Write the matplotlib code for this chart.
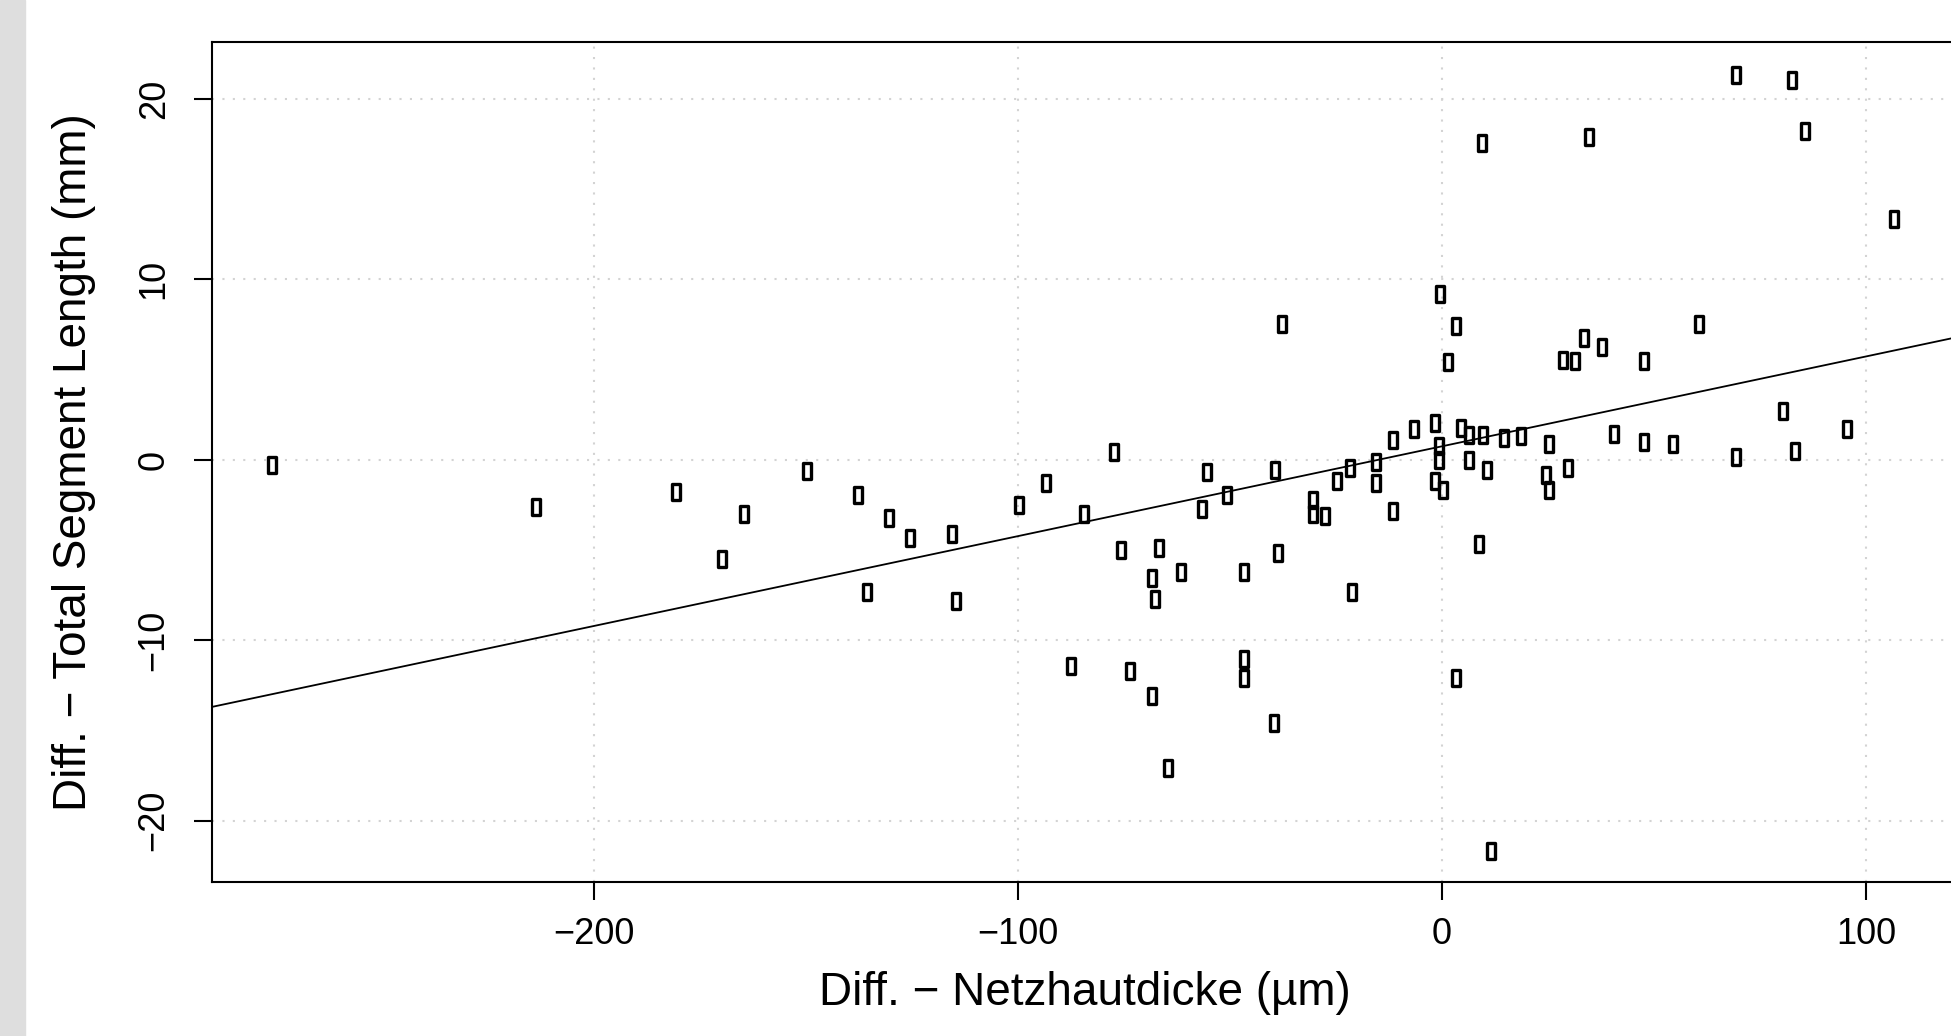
import numpy as np
import matplotlib
matplotlib.use('Agg')
import matplotlib.pyplot as plt
from matplotlib.path import Path

plt.rcParams['font.family'] = ['Liberation Sans', 'DejaVu Sans']

diff_thickness = [-275.8, -213.7, -180.6, -169.7, -164.7, -149.7, -137.7, -135.5, -130.5, -125.5,
                  -115.6, -114.7, -99.8, -93.5, -87.6, -84.5, -77.3, -75.6, -73.6, -68.4,
                  -68.4, -67.8, -66.8, -64.6, -61.5, -56.6, -55.5, -50.7, -46.8, -46.8,
                  -46.8, -39.4, -39.6, -38.7, -37.8, -30.4, -30.4, -27.5, -24.7, -21.6,
                  -21.3, -15.6, -15.6, -11.5, -11.5, -6.6, -0.6, -1.7, -0.7, -0.7,
                  -1.7, 0.3, 1.45, 3.4, 3.3, 4.4, 6.3, 6.3, 8.6, 9.4,
                  9.6, 10.5, 11.6, 14.5, 18.6, 24.6, 25.2, 25.2, 28.6, 31.3,
                  29.6, 33.5, 34.6, 37.6, 40.6, 47.6, 47.6, 54.4, 60.5, 69.3,
                  69.3, 80.4, 82.5, 83.3, 85.5, 95.4, 106.5]
diff_length = [-0.3, -2.6, -1.8, -5.5, -3.0, -0.6, -1.95, -7.3, -3.2, -4.35,
               -4.1, -7.8, -2.5, -1.3, -11.45, -3.0, 0.45, -5.0, -11.7, -6.55,
               -13.1, -7.7, -4.9, -17.1, -6.2, -2.7, -0.65, -1.95, -6.2, -11.05,
               -12.1, -0.55, -14.6, -5.15, 7.5, -2.25, -3.0, -3.1, -1.15, -0.45,
               -7.3, -0.1, -1.3, 1.1, -2.85, 1.7, 9.2, 2.05, 0.75, 0.0,
               -1.2, -1.65, 5.4, 7.4, -12.1, 1.75, 1.35, 0.0, -4.65, 17.55,
               1.35, -0.55, -21.7, 1.2, 1.3, -0.85, 0.9, -1.65, 5.55, 5.5,
               -0.45, 6.75, 17.9, 6.25, 1.45, 5.5, 1.0, 0.9, 7.55, 0.15,
               21.35, 2.7, 21.05, 0.5, 18.2, 1.7, 13.35]

# regression line (intercept, slope)
fit_intercept = 0.75
fit_slope = 0.0498

x_ticks = [-200, -100, 0, 100]
y_ticks = [-20, -10, 0, 10, 20]

fig = plt.figure(figsize=(19.51, 10.36), dpi=100)
# grey strip on the left edge
fig.patches.append(plt.Rectangle((0, 0), 25 / 1951, 1, transform=fig.transFigure,
                                 color='#dedede', zorder=0))

ax = fig.add_axes([0.10866, 0.14846, 0.89523, 0.81071])
ax.set_xlim(-290.05, 121.8)
ax.set_ylim(-23.41, 23.14)

# dotted grid like R's grid()
for xt in x_ticks:
    ax.axvline(xt, color='#d3d3d3', linestyle=(0, (1, 4)), linewidth=1.5, zorder=0)
for yt in y_ticks:
    ax.axhline(yt, color='#d3d3d3', linestyle=(0, (1, 4)), linewidth=1.5, zorder=0)

# tall narrow box marker
box = Path([(-0.23, -0.5), (0.23, -0.5), (0.23, 0.5), (-0.23, 0.5), (-0.23, -0.5)],
           [Path.MOVETO, Path.LINETO, Path.LINETO, Path.LINETO, Path.CLOSEPOLY])
ax.plot(diff_thickness, diff_length, linestyle='none', marker=box, markersize=12,
        markerfacecolor='none', markeredgecolor='black', markeredgewidth=2.4, zorder=3)

xs = np.array(ax.get_xlim())
ax.plot(xs, fit_intercept + fit_slope * xs, color='black', linewidth=1.3, zorder=2)

ax.set_xticks(x_ticks)
ax.set_yticks(y_ticks)
ax.tick_params(axis='both', length=13, width=1.5, labelsize=26)
ax.tick_params(axis='x', pad=12)
ax.tick_params(axis='y', pad=16)
for lab in ax.get_yticklabels():
    lab.set_rotation(90)
    lab.set_va('center')

for side in ['top', 'left', 'bottom']:
    ax.spines[side].set_linewidth(1.5)
ax.spines['right'].set_visible(False)

ax.set_xlabel('Diff. \u2212 Netzhautdicke (\u00b5m)', fontsize=33, labelpad=14)
ax.set_ylabel('Diff. \u2212 Total Segment Length (mm)', fontsize=33, labelpad=29)

plt.savefig('out.png', dpi=100)
